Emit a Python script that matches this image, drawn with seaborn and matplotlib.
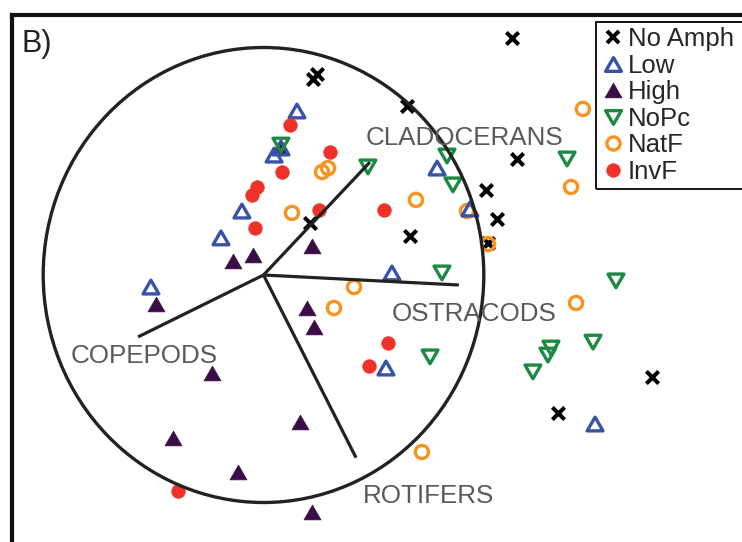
import matplotlib
matplotlib.use("Agg")
import matplotlib.pyplot as plt
import numpy as np
import pandas as pd
import seaborn as sns
from matplotlib.path import Path
from matplotlib.markers import MarkerStyle
from matplotlib.patches import Circle, Rectangle
from matplotlib.lines import Line2D

sns.set_theme(style="white")
plt.rcParams["font.family"] = ["Liberation Sans", "DejaVu Sans"]

# ---- site scores by treatment ----
noamph_x = [1.128, 0.225, 0.243, 0.651, 1.151, 1.010, 1.060, 0.665, 1.019, 0.211, 1.764, 1.337]
noamph_y = [1.042, 0.862, 0.884, 0.743, 0.510, 0.374, 0.246, 0.171, 0.141, 0.229, -0.448, -0.607]

low_x = [0.152, 0.079, 0.048, -0.098, -0.193, -0.511, 0.788, 0.937, 0.583, 0.556, 1.505]
low_y = [0.721, 0.558, 0.527, 0.281, 0.163, -0.053, 0.470, 0.290, 0.009, -0.409, -0.655]

high_x = [-0.138, -0.048, 0.220, -0.488, 0.197, 0.229, -0.234, 0.166, -0.411, -0.116, 0.220, 0.079]
high_y = [0.062, 0.088, 0.127, -0.127, -0.145, -0.229, -0.431, -0.646, -0.716, -0.866, -1.042, 0.563]

nopc_x = [0.079, 0.474, 0.833, 0.860, 1.378, 0.810, 1.600, 0.756, 1.305, 1.291, 1.496, 1.223]
nopc_y = [0.571, 0.475, 0.523, 0.396, 0.510, 0.009, -0.026, -0.360, -0.321, -0.352, -0.295, -0.426]

natf_x = [1.450, 1.396, 0.266, 0.293, 0.129, 0.692, 0.924, 1.019, 0.411, 0.320, 1.419, 0.719]
natf_y = [0.730, 0.387, 0.453, 0.470, 0.273, 0.330, 0.281, 0.136, -0.053, -0.145, -0.123, -0.778]

invf_x = [0.120, 0.302, 0.084, -0.030, -0.052, -0.039, 0.252, 0.547, 0.565, 0.479, -0.388]
invf_y = [0.659, 0.541, 0.453, 0.387, 0.352, 0.207, 0.286, 0.286, -0.299, -0.400, -0.949]

# ---- taxon loadings (vector tips) ----
taxa = ["CLADOCERANS", "OSTRACODS", "COPEPODS", "ROTIFERS"]
taxa_x = [0.483, 0.887, -0.569, 0.420]
taxa_y = [0.496, -0.044, -0.272, -0.803]

treatments = ["No Amph", "Low", "High", "NoPc", "NatF", "InvF"]

frames = []
for name, xs, ys in [("No Amph", noamph_x, noamph_y), ("Low", low_x, low_y),
                     ("High", high_x, high_y), ("NoPc", nopc_x, nopc_y),
                     ("NatF", natf_x, natf_y), ("InvF", invf_x, invf_y)]:
    frames.append(pd.DataFrame({"x": xs, "y": ys, "treatment": name}))
scores = pd.concat(frames, ignore_index=True)

# equilateral triangle markers, centred on their bounding box
h = np.sqrt(3) / 4
tri_up = MarkerStyle(Path([(-0.5, -h), (0.5, -h), (0.0, h), (-0.5, -h)],
                          [Path.MOVETO, Path.LINETO, Path.LINETO, Path.CLOSEPOLY]),
                     joinstyle="miter")
tri_down = MarkerStyle(Path([(-0.5, h), (0.5, h), (0.0, -h), (-0.5, h)],
                            [Path.MOVETO, Path.LINETO, Path.LINETO, Path.CLOSEPOLY]),
                       joinstyle="miter")

styles = {
    "No Amph": dict(marker="x", s=78, color="#000000", linewidths=2.9),
    "High":    dict(marker=tri_up, s=150, color="#3a0d46", edgecolor="#3a0d46", linewidth=0.5),
    "NatF":    dict(marker="o", s=90, color="#f7941d", facecolor="none", edgecolor="#f7941d", linewidth=2.4),
    "Low":     dict(marker=tri_up, s=130, color="#3953a4", facecolor="none", edgecolor="#3953a4", linewidth=2.4),
    "NoPc":    dict(marker=tri_down, s=130, color="#1b8a42", facecolor="none", edgecolor="#1b8a42", linewidth=2.4),
    "InvF":    dict(marker="o", s=100, color="#ee3129", edgecolor="#ee3129", linewidth=0.3),
}

W, H = 742, 542
fig = plt.figure(figsize=(W / 100, H / 100), dpi=100)
ax = fig.add_axes([12 / W, 0, 1 - 12 / W, 1 - 15 / H])

for name in ["High", "No Amph", "NatF", "Low", "NoPc", "InvF"]:
    sub = scores[scores["treatment"] == name]
    sns.scatterplot(data=sub, x="x", y="y", ax=ax, legend=False, zorder=3, **styles[name])

# correlation circle and loading vectors
ax.add_patch(Circle((0, 0), 1.0, fill=False, lw=2.4, color="#222222", zorder=4))
for tx, ty in zip(taxa_x, taxa_y):
    ax.plot([0, tx], [0, ty], color="#222222", lw=2.3, solid_capstyle="butt", zorder=4)

label_x = [0.912, 0.956, -0.542, 0.747]
label_y = [0.571, -0.202, -0.387, -1.002]
for name, lx, ly in zip(taxa, label_x, label_y):
    ax.text(lx, ly, name, ha="center", va="baseline", fontsize=18.7,
            color="#5a5a5a", zorder=5)

ax.set_xlim((12 - 263.5) / 220.3, (W - 263.5) / 220.3)
ax.set_ylim((275 - H) / 227.5, (275 - 15) / 227.5)
ax.set_xticks([])
ax.set_yticks([])
ax.set_xlabel("")
ax.set_ylabel("")
for side in ["right", "bottom"]:
    ax.spines[side].set_visible(False)
for side in ["left", "top"]:
    ax.spines[side].set_linewidth(3.0)
    ax.spines[side].set_color("#111111")

fig.text(21 / W, 1 - 52 / H, "B)", fontsize=22, va="baseline", color="#222222")

handles = []
for name in treatments:
    st = styles[name]
    m = st["marker"]
    col = st["color"]
    fc = st.get("facecolor", col)
    handles.append(Line2D([], [], linestyle="", marker=m, markersize=np.sqrt(st["s"]),
                          markerfacecolor=fc, markeredgecolor=st.get("edgecolor", col),
                          markeredgewidth=st.get("linewidth", st.get("linewidths", 1.0))))
leg = ax.legend(handles, treatments, loc="upper left",
                bbox_to_anchor=(596 / W, 1 - 22 / H), bbox_transform=fig.transFigure,
                frameon=False, borderpad=0.2, borderaxespad=0, handlelength=0.9,
                handletextpad=0.15, labelspacing=0.1, fontsize=18.5)
leg.set_zorder(6)

# legend box runs off the right-hand edge of the panel
fig.canvas.draw()
bb = leg.get_window_extent().transformed(fig.transFigure.inverted())
fig.add_artist(Rectangle((bb.x0, bb.y0), 1.2 - bb.x0, bb.height,
                         transform=fig.transFigure, fill=False,
                         edgecolor="#000000", linewidth=1.3, zorder=7))

fig.savefig("out.png", dpi=100)
